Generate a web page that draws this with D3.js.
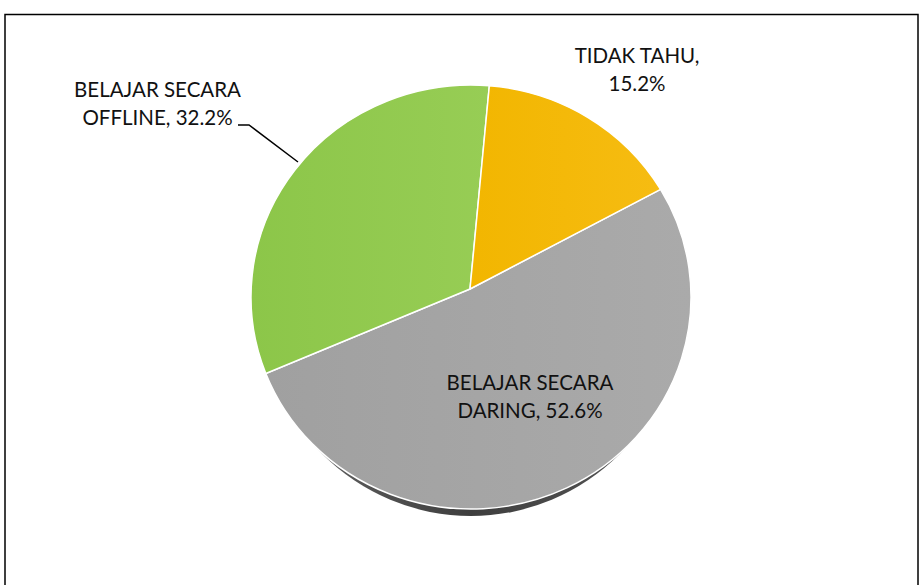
<!DOCTYPE html>
<html><head><meta charset="utf-8">
<script src="https://cdn.jsdelivr.net/npm/d3@7/dist/d3.min.js"></script>
<style>html,body{margin:0;padding:0;background:#fff;}svg{display:block;}</style>
</head><body>
<script>
const categories = ["BELAJAR SECARA DARING", "BELAJAR SECARA OFFLINE", "TIDAK TAHU"];
const values = [52.6, 32.2, 15.2];
const labelLines = [["BELAJAR SECARA", "DARING, 52.6%"], ["BELAJAR SECARA", "OFFLINE, 32.2%"], ["TIDAK TAHU,", "15.2%"]];
const colors = ["#A5A5A5", "#92C94F", "#F4B80A"];

const W = 922, H = 585;
const svg = d3.select("body").append("svg").attr("width", W).attr("height", H);

// frame
svg.append("rect").attr("x", 5).attr("y", 14.5).attr("width", 913).attr("height", 600)
  .attr("fill", "none").attr("stroke", "#000").attr("stroke-width", 1.5);

const defs = svg.append("defs");
const grads = [
  {id: "g0", c0: "#A0A0A0", c1: "#AAAAAA"},
  {id: "g1", c0: "#8CC649", c1: "#97CD55"},
  {id: "g2", c0: "#F2B600", c1: "#F6BC12"}
];
grads.forEach(g => {
  const lg = defs.append("linearGradient").attr("id", g.id).attr("x1", "0").attr("y1", "0").attr("x2", "1").attr("y2", "0");
  lg.append("stop").attr("offset", "0").attr("stop-color", g.c0);
  lg.append("stop").attr("offset", "1").attr("stop-color", g.c1);
});
const sg = defs.append("linearGradient").attr("id", "side").attr("x1", "0").attr("y1", "0").attr("x2", "1").attr("y2", "0");
sg.append("stop").attr("offset", "0").attr("stop-color", "#6a6a6a");
sg.append("stop").attr("offset", "0.5").attr("stop-color", "#3e3e3e");
sg.append("stop").attr("offset", "1").attr("stop-color", "#5a5a5a");

// geometry (3D tilt approximated: ellipse + offset apex)
const cx = 471, cy = 297, rx = 220, ry = 212;
const apex = [470, 289];
const start = 59.5 * Math.PI / 180;

const pie = d3.pie().sort(null).value(d => d)
  .startAngle(start).endAngle(start + 2 * Math.PI);
const arcs = pie(values);

const pt = a => [cx + rx * Math.sin(a), cy - ry * Math.cos(a)];
function slicePath(d) {
  const p0 = pt(d.startAngle), p1 = pt(d.endAngle);
  const large = (d.endAngle - d.startAngle) > Math.PI ? 1 : 0;
  return `M${apex[0]},${apex[1]}L${p0[0]},${p0[1]}A${rx},${ry} 0 ${large} 1 ${p1[0]},${p1[1]}Z`;
}

// 3D side / shadow
svg.append("ellipse").attr("cx", cx).attr("cy", cy + 6).attr("rx", rx - 9).attr("ry", ry + 1)
  .attr("fill", "url(#side)");

svg.append("g").selectAll("path").data(arcs).join("path")
  .attr("d", slicePath)
  .attr("fill", (d, i) => `url(#g${i})`)
  .attr("stroke", "#fff").attr("stroke-width", 1.5).attr("stroke-linejoin", "round");

// labels
const labelPos = [[530, 390], [157.5, 97], [637, 63]];
const lg = svg.append("g").attr("font-family", "Lato, 'Open Sans', sans-serif").attr("font-size", 20.5).attr("fill", "#111");
labelLines.forEach((lines, i) => {
  const t = lg.append("text").attr("text-anchor", "middle");
  lines.forEach((s, j) => {
    t.append("tspan").attr("x", labelPos[i][0]).attr("y", labelPos[i][1] + j * 28).text(s);
  });
});

// leader line for OFFLINE
svg.append("polyline").attr("points", "238,125 249,125 298,162")
  .attr("fill", "none").attr("stroke", "#000").attr("stroke-width", 1.5);
</script>
</body></html>
